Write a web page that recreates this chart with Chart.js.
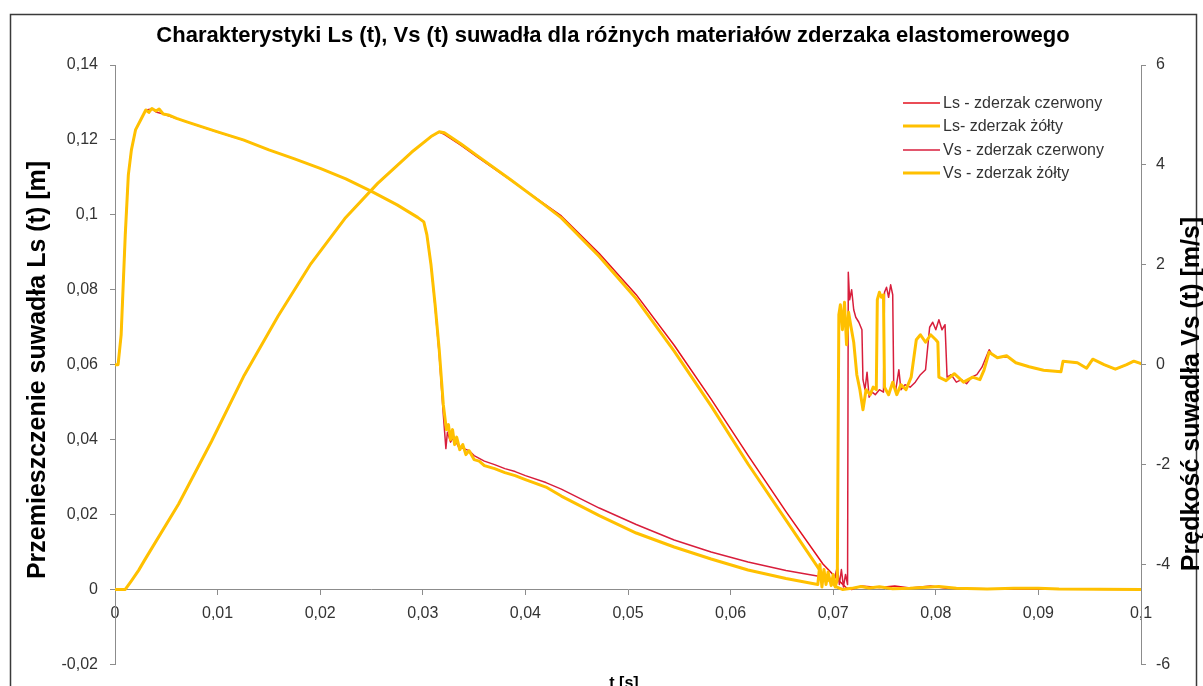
<!DOCTYPE html>
<html>
<head>
<meta charset="utf-8">
<title>Charakterystyki Ls (t), Vs (t)</title>
<script src="https://cdn.jsdelivr.net/npm/chart.js@4.4.1/dist/chart.umd.min.js"></script>
<style>
  html, body { margin: 0; padding: 0; background: #fff; }
  #wrap { width: 1203px; height: 686px; position: relative; }
</style>
</head>
<body>
<div id="wrap"><canvas id="chart"></canvas></div>
<script>
// ===== DATA =====
const chartTitle = 'Charakterystyki Ls (t), Vs (t) suwadła dla różnych materiałów zderzaka elastomerowego';
const leftTitle = 'Przemieszczenie suwadła Ls (t) [m]';
const rightTitle = 'Prędkość suwadła Vs (t) [m/s]';
const xTitle = 't [s]';
const seriesNames = ['Ls - zderzak czerwony', 'Ls- zderzak żółty', 'Vs - zderzak czerwony', 'Vs - zderzak żółty'];

// [t (s), Ls (m)]
const lsRed = [[0,0],[0.001,0],[0.0016,0.0023],[0.0023,0.0051],[0.0029,0.0079],[0.0062,0.0228],[0.0094,0.0395],
  [0.0126,0.0572],[0.0159,0.073],[0.0191,0.087],[0.0224,0.099],[0.0256,0.1084],[0.0289,0.1167],[0.0308,0.1209],
  [0.0316,0.1221],[0.0321,0.1215],[0.0337,0.1186],[0.0353,0.1155],[0.0386,0.1092],[0.0418,0.103],[0.0435,0.0997],
  [0.0472,0.0897],[0.0508,0.0787],[0.0545,0.0652],[0.0581,0.0508],[0.0617,0.0358],[0.0654,0.0208],[0.069,0.0068],
  [0.0705,0.0025],[0.0713,0.0004],[0.0718,0],[0.0727,0.0009],[0.0745,0.0005],[0.076,0.0009],[0.0775,0.0004],
  [0.0795,0.0009],[0.081,0.0003],[0.085,0.0002],[0.1,0]];
const lsYellow = [[0,0],[0.001,0],[0.0016,0.0023],[0.0023,0.0051],[0.0029,0.0079],[0.0062,0.0228],[0.0094,0.0395],
  [0.0126,0.0572],[0.0159,0.073],[0.0191,0.087],[0.0224,0.099],[0.0256,0.1084],[0.0289,0.1167],[0.0308,0.1209],
  [0.0316,0.1222],[0.0321,0.1219],[0.0337,0.119],[0.0353,0.1158],[0.0386,0.1093],[0.0418,0.1028],[0.0435,0.0992],
  [0.0472,0.0889],[0.0508,0.0776],[0.0545,0.0636],[0.0581,0.049],[0.0617,0.0335],[0.0654,0.0185],[0.069,0.0039],
  [0.0703,0.0007],[0.0709,0],[0.0718,0.0003],[0.0727,0.0008],[0.0735,0.0004],[0.0745,0.0007],[0.0758,0.0002],
  [0.0775,0.0003],[0.0803,0.0008],[0.082,0.0003],[0.085,0.0001],[0.0876,0.0003],[0.09,0.0003],[0.092,0.0001],[0.1,0]];

// [t (s), Vs (m/s)]
const vsRed = [[0,0],[0.0003,0],[0.0006,0.6],[0.001,2.6],[0.0013,3.8],[0.0016,4.3],[0.002,4.7],[0.0025,4.9],
  [0.003,5.1],[0.0036,5.12],[0.004,5.06],[0.0047,5.02],[0.006,4.93],[0.0085,4.76],[0.01,4.66],[0.0125,4.5],
  [0.015,4.3],[0.0175,4.12],[0.02,3.93],[0.0225,3.72],[0.025,3.47],[0.0275,3.2],[0.0295,2.95],[0.0301,2.86],
  [0.0304,2.6],[0.0308,2.0],[0.0312,1.15],[0.0316,0.2],[0.032,-1.0],[0.03225,-1.68],[0.0324,-1.35],[0.0327,-1.55],
  [0.033,-1.45],[0.0335,-1.65],[0.034,-1.68],[0.0345,-1.72],[0.035,-1.82],[0.036,-1.93],[0.037,-2.0],[0.038,-2.08],
  [0.039,-2.14],[0.04,-2.22],[0.042,-2.36],[0.0435,-2.49],[0.0472,-2.87],[0.0508,-3.2],[0.0545,-3.51],[0.0581,-3.75],
  [0.0617,-3.95],[0.0654,-4.12],[0.069,-4.25],[0.0701,-4.3],[0.0704,-4.05],[0.0706,-4.4],[0.0708,-4.1],[0.071,-4.45],
  [0.0712,-4.2],[0.0714,-4.4],[0.07147,1.85],[0.0716,1.3],[0.0718,1.5],[0.072,1.1],[0.0722,0.95],[0.0725,0.85],
  [0.0728,0.7],[0.0729,-0.3],[0.0731,-0.5],[0.0733,-0.15],[0.0735,-0.65],[0.0738,-0.55],[0.0741,-0.6],[0.0745,-0.5],
  [0.0749,-0.55],[0.075,1.45],[0.0752,1.55],[0.0754,1.35],[0.0756,1.6],[0.0758,1.4],[0.0759,-0.4],[0.0761,-0.5],
  [0.0764,-0.1],[0.0766,-0.5],[0.077,-0.4],[0.0775,-0.45],[0.078,-0.35],[0.0785,-0.2],[0.079,-0.1],[0.0794,0.75],
  [0.0797,0.85],[0.08,0.7],[0.0803,0.9],[0.0806,0.7],[0.0809,0.8],[0.0811,-0.25],[0.0815,-0.2],[0.082,-0.35],
  [0.0825,-0.3],[0.083,-0.38],[0.0835,-0.25],[0.084,-0.2],[0.0845,-0.05],[0.0852,0.3],[0.0855,0.2],[0.086,0.15],
  [0.087,0.16],[0.0878,0.04],[0.0891,-0.04],[0.0905,-0.11],[0.0922,-0.14],[0.0924,0.07],[0.0938,0.04],[0.0947,-0.07],
  [0.0953,0.11],[0.0964,0],[0.0975,-0.09],[0.0986,0],[0.0993,0.07],[0.1,0.02]];
const vsYellow = [[0,0],[0.0003,0],[0.0006,0.6],[0.001,2.6],[0.0013,3.8],[0.0016,4.3],[0.002,4.7],[0.0025,4.9],
  [0.003,5.1],[0.0033,5.05],[0.0036,5.13],[0.004,5.08],[0.0043,5.12],[0.0047,5.02],[0.0052,5.0],[0.006,4.93],
  [0.007,4.86],[0.0085,4.76],[0.01,4.66],[0.0125,4.5],[0.015,4.3],[0.0175,4.12],[0.02,3.93],[0.0225,3.72],
  [0.025,3.47],[0.0275,3.2],[0.0295,2.95],[0.0301,2.86],[0.0304,2.6],[0.0308,2.0],[0.0312,1.2],[0.0316,0.3],
  [0.032,-0.8],[0.0323,-1.3],[0.0325,-1.2],[0.0327,-1.5],[0.0329,-1.3],[0.0331,-1.6],[0.0333,-1.45],[0.0336,-1.7],
  [0.0339,-1.6],[0.0342,-1.8],[0.0345,-1.72],[0.035,-1.9],[0.0355,-1.93],[0.036,-2.02],[0.037,-2.08],[0.038,-2.16],
  [0.039,-2.22],[0.04,-2.3],[0.042,-2.45],[0.0435,-2.63],[0.0472,-3.02],[0.0508,-3.37],[0.0545,-3.65],[0.0581,-3.89],
  [0.0617,-4.11],[0.0654,-4.28],[0.0685,-4.4],[0.0687,-4.0],[0.0689,-4.45],[0.0691,-4.1],[0.0693,-4.4],[0.0695,-4.15],
  [0.0698,-4.42],[0.07,-4.2],[0.0702,-4.45],[0.0704,-4.3],[0.07055,1.0],[0.0707,1.2],[0.0709,0.7],[0.0711,1.25],
  [0.0713,0.4],[0.0715,1.05],[0.0717,0.8],[0.072,0.45],[0.0723,-0.2],[0.0726,-0.5],[0.0729,-0.9],[0.0732,-0.5],
  [0.0736,-0.6],[0.0739,-0.45],[0.0742,-0.5],[0.0743,1.3],[0.0745,1.45],[0.0747,1.35],[0.0749,1.4],[0.075,-0.45],
  [0.0754,-0.6],[0.0758,-0.35],[0.0762,-0.6],[0.0766,-0.4],[0.0771,-0.5],[0.0776,-0.25],[0.0781,0.5],[0.0785,0.6],
  [0.079,0.45],[0.0795,0.6],[0.08,0.5],[0.0802,0.45],[0.0803,-0.25],[0.081,-0.32],[0.0818,-0.18],[0.0827,-0.35],
  [0.0836,-0.25],[0.0843,-0.3],[0.0847,-0.11],[0.0852,0.25],[0.086,0.14],[0.0869,0.18],[0.0878,0.04],[0.0891,-0.04],
  [0.0905,-0.11],[0.0922,-0.14],[0.0924,0.07],[0.0938,0.04],[0.0947,-0.07],[0.0953,0.11],[0.0964,0],[0.0975,-0.09],
  [0.0986,0],[0.0993,0.07],[0.1,0.02]];

const RED = '#e3101e';
const RED2 = '#d81e3c';
const YELLOW = '#ffc000';
const FONT = '"Liberation Sans", Arial, sans-serif';

const toPts = arr => arr.map(p => ({ x: p[0], y: p[1] }));
const fmtNum = v => String(Math.round(v * 1000) / 1000).replace('.', ',');

// title, axis titles, legend and the outer frame
const decor = {
  id: 'decor',
  beforeDraw(chart) {
    const c = chart.ctx;
    c.save();
    c.fillStyle = '#fff';
    c.fillRect(0, 0, chart.width, chart.height);
    c.strokeStyle = '#3a3a3a';
    c.lineWidth = 1.5;
    c.strokeRect(10.5, 14.5, 1186, 700);
    c.restore();
  },
  afterDraw(chart) {
    const c = chart.ctx;
    c.save();
    c.fillStyle = '#000';
    c.textBaseline = 'alphabetic';
    c.textAlign = 'center';
    c.font = 'bold 22px ' + FONT;
    c.fillText(chartTitle, 613, 42);

    c.font = 'bold 25px ' + FONT;
    c.save(); c.translate(45, 370); c.rotate(-Math.PI / 2); c.fillText(leftTitle, 0, 0); c.restore();
    c.save(); c.translate(1199, 394); c.rotate(-Math.PI / 2); c.fillText(rightTitle, 0, 0); c.restore();

    c.font = 'bold 16px ' + FONT;
    c.fillText(xTitle, 624, 688);

    // legend
    const rows = [103, 126, 150, 173];
    c.textAlign = 'left';
    c.textBaseline = 'middle';
    c.font = '16px ' + FONT;
    chart.data.datasets.forEach((ds, i) => {
      c.strokeStyle = ds.borderColor;
      c.lineWidth = ds.borderWidth;
      c.beginPath(); c.moveTo(903, rows[i]); c.lineTo(940, rows[i]); c.stroke();
      c.fillStyle = '#333';
      c.fillText(ds.label, 943, rows[i] + 1);
    });
    c.restore();
  }
};

const tickFont = { family: FONT, size: 16 };
const axisColor = '#8c8c8c';

new Chart(document.getElementById('chart').getContext('2d'), {
  type: 'line',
  data: {
    datasets: [
      { label: seriesNames[0], data: toPts(lsRed), yAxisID: 'y', borderColor: RED, borderWidth: 1.5, order: 4 },
      { label: seriesNames[1], data: toPts(lsYellow), yAxisID: 'y', borderColor: YELLOW, borderWidth: 3, order: 3 },
      { label: seriesNames[2], data: toPts(vsRed), yAxisID: 'y1', borderColor: RED2, borderWidth: 1.5, order: 2 },
      { label: seriesNames[3], data: toPts(vsYellow), yAxisID: 'y1', borderColor: YELLOW, borderWidth: 3, order: 1 }
    ]
  },
  options: {
    responsive: true,
    maintainAspectRatio: false,
    animation: false,
    layout: { padding: { top: 65, bottom: 11, left: 0, right: 0 } },
    elements: {
      point: { radius: 0 },
      line: { tension: 0, borderJoinStyle: 'round', borderCapStyle: 'round' }
    },
    plugins: { legend: { display: false }, title: { display: false }, tooltip: { enabled: false } },
    scales: {
      x: {
        type: 'linear', min: 0, max: 0.1, position: { y: 0 },
        ticks: { stepSize: 0.01, autoSkip: false, maxRotation: 0, padding: 10, color: '#333', font: tickFont, callback: v => fmtNum(v) },
        grid: { drawOnChartArea: false, drawTicks: true, tickLength: 5, color: axisColor },
        border: { color: axisColor, width: 1 }
      },
      y: {
        position: 'left', min: -0.02, max: 0.14,
        ticks: { stepSize: 0.02, padding: 12, color: '#333', font: tickFont, callback: v => fmtNum(v) },
        grid: { drawOnChartArea: false, drawTicks: true, tickLength: 5, color: axisColor },
        border: { color: axisColor, width: 1 },
        afterFit(s) { s.width = 115; }
      },
      y1: {
        position: 'right', min: -6, max: 6,
        ticks: { stepSize: 2, padding: 10, color: '#333', font: tickFont, callback: v => fmtNum(v) },
        grid: { drawOnChartArea: false, drawTicks: true, tickLength: 5, color: axisColor },
        border: { color: axisColor, width: 1 },
        afterFit(s) { s.width = 62; }
      }
    }
  },
  plugins: [decor]
});
</script>
</body>
</html>
